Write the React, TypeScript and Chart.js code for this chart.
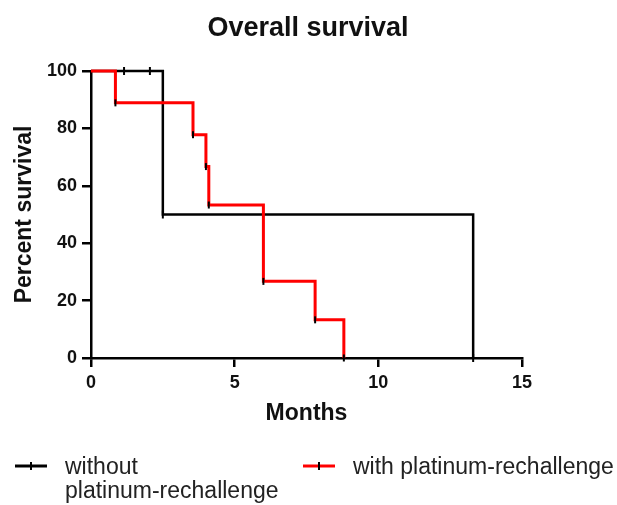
import React, { useEffect, useRef } from "react";
import { Chart, registerables } from "chart.js";

Chart.register(...registerables);

const chartTitle = "Overall survival";
const xAxisTitle = "Months";
const yAxisTitle = "Percent survival";

const withoutLabel = ["without", "platinum-rechallenge"];
const withLabel = ["with platinum-rechallenge"];

// Kaplan-Meier steps: without platinum-rechallenge (black)
const withoutTimes = [0, 2.5, 13.3];
const withoutSurv = [100, 50, 0];
const withoutCensorTimes = [1.15, 2.05];
const withoutCensorSurv = [100, 100];

// Kaplan-Meier steps: with platinum-rechallenge (red)
const withTimes = [0, 0.85, 3.55, 4.0, 4.1, 6.0, 7.8, 8.8];
const withSurv = [100, 88.9, 77.8, 66.7, 53.3, 26.7, 13.3, 0];

const xTicks = [0, 5, 10, 15];
const yTicks = [0, 20, 40, 60, 80, 100];

const FONT = '"Liberation Sans", Arial, Helvetica, sans-serif';

const toPts = (xs: number[], ys: number[]) => xs.map((x, i) => ({ x, y: ys[i] }));

const overlayPlugin = {
  id: "overlay",
  afterDraw(chart: any) {
    const ctx = chart.ctx;
    ctx.save();
    // title
    ctx.fillStyle = "#111";
    ctx.font = `bold 27px ${FONT}`;
    ctx.textAlign = "center";
    ctx.textBaseline = "alphabetic";
    ctx.fillText(chartTitle, 308, 36);

    // legend
    const drawIcon = (x0: number, x1: number, y: number, color: string) => {
      ctx.strokeStyle = color;
      ctx.lineWidth = 3;
      ctx.beginPath();
      ctx.moveTo(x0, y);
      ctx.lineTo(x1, y);
      ctx.stroke();
      ctx.strokeStyle = "#000";
      ctx.lineWidth = 2;
      const cx = (x0 + x1) / 2;
      ctx.beginPath();
      ctx.moveTo(cx, y - 4);
      ctx.lineTo(cx, y + 4);
      ctx.stroke();
    };
    drawIcon(15, 47, 466, "#000");
    drawIcon(303, 335, 466, "#ff0000");
    ctx.fillStyle = "#222";
    ctx.font = `23px ${FONT}`;
    ctx.textAlign = "left";
    ctx.textBaseline = "alphabetic";
    withoutLabel.forEach((t, i) => ctx.fillText(t, 65, 474 + i * 24));
    withLabel.forEach((t, i) => ctx.fillText(t, 353, 474 + i * 24));
    ctx.restore();
  },
};

export default function App() {
  const ref = useRef<HTMLCanvasElement | null>(null);

  useEffect(() => {
    if (!ref.current) return;
    const chart = new Chart(ref.current, {
      type: "line",
      data: {
        datasets: [
          {
            label: withLabel.join(" "),
            data: toPts(withTimes, withSurv),
            borderColor: "#ff0000",
            borderWidth: 3,
            stepped: "before",
            fill: false,
            pointStyle: "line",
            rotation: 90,
            pointRadius: (c: any) => (c.dataIndex === 0 ? 0 : 3.5),
            pointBorderColor: "#000",
            pointBackgroundColor: "#000",
            pointBorderWidth: 2,
            clip: false,
            order: 0,
          } as any,
          {
            label: withoutLabel.join(" "),
            data: toPts(withoutTimes, withoutSurv),
            borderColor: "#000",
            borderWidth: 2.5,
            stepped: "before",
            fill: false,
            pointStyle: "line",
            rotation: 90,
            pointRadius: (c: any) => (c.dataIndex === 0 ? 0 : 4),
            pointBorderColor: "#000",
            pointBorderWidth: 2,
            clip: false,
            order: 1,
          } as any,
          {
            label: "censored",
            data: toPts(withoutCensorTimes, withoutCensorSurv),
            showLine: false,
            pointStyle: "line",
            rotation: 90,
            pointRadius: 4,
            pointBorderColor: "#000",
            pointBorderWidth: 2,
            clip: false,
            order: 1,
          } as any,
        ],
      },
      options: {
        responsive: false,
        animation: false,
        events: [],
        layout: { padding: { top: 71, right: 95, left: 0, bottom: 0 } },
        plugins: {
          legend: { display: false },
          title: { display: false },
          tooltip: { enabled: false },
        },
        scales: {
          x: {
            type: "linear",
            min: 0,
            max: 15,
            afterFit: (s: any) => {
              s.height = 147;
            },
            afterBuildTicks: (s: any) => {
              s.ticks = xTicks.map((v) => ({ value: v }));
            },
            ticks: {
              color: "#111",
              font: { family: FONT, size: 18, weight: "bold" },
              padding: 5,
              maxRotation: 0,
            },
            grid: {
              drawOnChartArea: false,
              drawTicks: true,
              tickLength: 9,
              color: "#000",
              lineWidth: 2.5,
            },
            border: { display: true, color: "#000", width: 2.5 },
            title: {
              display: true,
              text: xAxisTitle,
              color: "#111",
              font: { family: FONT, size: 23, weight: "bold" },
              padding: { top: 0, bottom: 78 },
            },
          },
          y: {
            type: "linear",
            min: 0,
            max: 100,
            afterFit: (s: any) => {
              s.width = 91;
            },
            afterBuildTicks: (s: any) => {
              s.ticks = yTicks.map((v) => ({ value: v }));
            },
            ticks: {
              color: "#111",
              font: { family: FONT, size: 18, weight: "bold" },
              padding: 5,
            },
            grid: {
              drawOnChartArea: false,
              drawTicks: true,
              tickLength: 9,
              color: "#000",
              lineWidth: 2.5,
            },
            border: { display: true, color: "#000", width: 2.5 },
            title: {
              display: true,
              text: yAxisTitle,
              color: "#111",
              font: { family: FONT, size: 23, weight: "bold" },
              padding: { top: 11, bottom: 0 },
            },
          },
        },
      } as any,
      plugins: [overlayPlugin],
    });
    return () => chart.destroy();
  }, []);

  return (
    <div style={{ position: "absolute", left: 0, top: 0, width: 617, height: 505, background: "#fff" }}>
      <canvas ref={ref} width={617} height={505} style={{ display: "block" }} />
    </div>
  );
}
